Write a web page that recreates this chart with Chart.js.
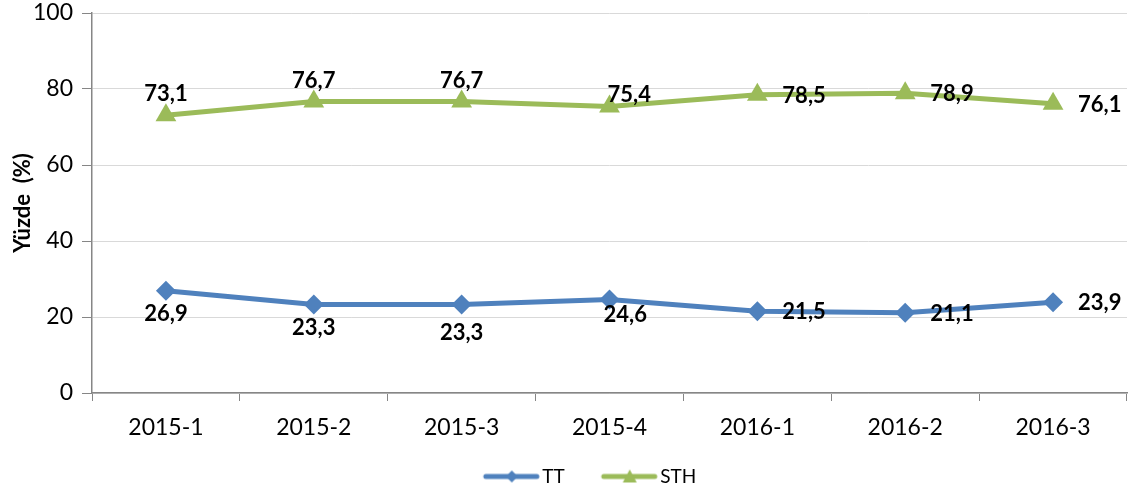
<!DOCTYPE html>
<html>
<head>
<meta charset="utf-8">
<script src="https://cdn.jsdelivr.net/npm/chart.js@4"></script>
<style>
  html, body { margin: 0; padding: 0; background: #fff; overflow: hidden; }
  #wrap { position: absolute; left: 0; top: 0; width: 1134px; height: 496px; }
</style>
</head>
<body>
<div id="wrap"><canvas id="lineChart"></canvas></div>
<script>
// data
const periods = ['2015-1', '2015-2', '2015-3', '2015-4', '2016-1', '2016-2', '2016-3'];
const ttValues = [26.9, 23.3, 23.3, 24.6, 21.5, 21.1, 23.9];
const sthValues = [73.1, 76.7, 76.7, 75.4, 78.5, 78.9, 76.1];
const yTicks = [0, 20, 40, 60, 80, 100];

// where each value label sits relative to its point
const ttLabelPos = ['bottom', 'bottom', 'bottomFar', 'bottomRight', 'right', 'right', 'right'];
const sthLabelPos = ['top', 'top', 'top', 'topRight', 'right', 'right', 'right'];

const BLUE = '#4F81BD';
const GREEN = '#9BBB59';
const FONT = 'Lato, "Open Sans", sans-serif';

// legend swatch: short line with the marker in the middle
// (canvas is wider than the legend box so the line sits close to the text)
const makeSwatch = (color, shape) => {
  const c = document.createElement('canvas');
  c.width = 76; c.height = 16;
  const g = c.getContext('2d');
  g.strokeStyle = color;
  g.lineWidth = 5;
  g.lineCap = 'round';
  g.beginPath(); g.moveTo(20, 8); g.lineTo(71, 8); g.stroke();
  g.fillStyle = color;
  g.beginPath();
  if (shape === 'diamond') {
    g.moveTo(46, 2); g.lineTo(52, 8); g.lineTo(46, 14); g.lineTo(40, 8);
  } else {
    g.moveTo(46, 1); g.lineTo(53, 14); g.lineTo(39, 14);
  }
  g.closePath(); g.fill();
  return c;
};

// simple value labels (no datalabels plugin available)
const valueLabels = {
  id: 'valueLabels',
  afterLayout(chart) {
    // the original legend sits a little right of centre
    chart.legend.left += 22;
    chart.legend.right += 22;
  },
  afterDatasetsDraw(chart) {
    const ctx = chart.ctx;
    ctx.save();
    ctx.font = 'bold 22px ' + FONT;
    ctx.fillStyle = '#000';
    ctx.textBaseline = 'middle';
    chart.data.datasets.forEach((ds, di) => {
      const meta = chart.getDatasetMeta(di);
      meta.data.forEach((pt, i) => {
        const txt = ds.data[i].toFixed(1).replace('.', ',');
        let x = pt.x, y = pt.y, align = 'center';
        switch (ds.labelPos[i]) {
          case 'top': y -= 21; break;
          case 'bottom': y += 23; break;
          case 'bottomFar': y += 28; break;
          case 'right': x += 25; y += 1; align = 'left'; break;
          case 'topRight': x -= 2; y -= 12; align = 'left'; break;
          case 'bottomRight': x -= 6; y += 15; align = 'left'; break;
        }
        ctx.textAlign = align;
        ctx.fillText(txt, x, y);
      });
    });
    ctx.restore();
  }
};

const ctx = document.getElementById('lineChart');
new Chart(ctx, {
  type: 'line',
  data: {
    labels: periods,
    datasets: [
      {
        label: 'TT',
        data: ttValues,
        labelPos: ttLabelPos,
        borderColor: BLUE,
        backgroundColor: BLUE,
        borderWidth: 5,
        pointStyle: 'rectRot',
        pointRadius: 10,
        pointBorderWidth: 0,
        pointHoverRadius: 10,
        legendSwatch: makeSwatch(BLUE, 'diamond')
      },
      {
        label: 'STH',
        data: sthValues,
        labelPos: sthLabelPos,
        borderColor: GREEN,
        backgroundColor: GREEN,
        borderWidth: 5,
        pointStyle: 'triangle',
        pointRadius: 12,
        pointBorderWidth: 0,
        pointHoverRadius: 12,
        legendSwatch: makeSwatch(GREEN, 'triangle')
      }
    ]
  },
  options: {
    responsive: true,
    maintainAspectRatio: false,
    animation: false,
    layout: { autoPadding: false, padding: { top: 13, right: 7, left: 0, bottom: 0 } },
    scales: {
      x: {
        offset: true,
        grid: { drawOnChartArea: false, offset: true, tickLength: 8, tickColor: '#868686' },
        border: { color: '#868686', width: 1.5 },
        ticks: { color: '#000', font: { family: FONT, size: 23 }, padding: 13 },
        afterFit: (scale) => { scale.height = 46; scale.paddingLeft = 0; scale.paddingRight = 0; }
      },
      y: {
        min: 0,
        max: 100,
        afterBuildTicks: (scale) => { scale.ticks = yTicks.map(v => ({ value: v })); },
        grid: { color: '#D9D9D9', tickLength: 10, tickColor: '#868686' },
        border: { color: '#868686', width: 1.5 },
        ticks: { color: '#000', font: { family: FONT, size: 23 }, padding: 9 },
        title: {
          display: true,
          text: 'Yüzde  (%)',
          color: '#000',
          font: { family: FONT, size: 22, weight: 'bold' },
          padding: { top: 10, bottom: 2 }
        },
        afterFit: (scale) => { scale.width = 92; scale.paddingTop = 0; scale.paddingBottom = 0; }
      }
    },
    plugins: {
      tooltip: { enabled: false },
      legend: {
        position: 'bottom',
        labels: {
          color: '#000',
          font: { family: FONT, size: 19 },
          usePointStyle: true,
          pointStyleWidth: 58,
          padding: 28,
          generateLabels: (chart) => chart.data.datasets.map((ds, i) => ({
            text: ds.label,
            pointStyle: ds.legendSwatch,
            fillStyle: ds.borderColor,
            strokeStyle: ds.borderColor,
            fontColor: '#000',
            lineWidth: 0,
            hidden: false,
            datasetIndex: i
          }))
        }
      }
    }
  },
  plugins: [valueLabels]
});
</script>
</body>
</html>
